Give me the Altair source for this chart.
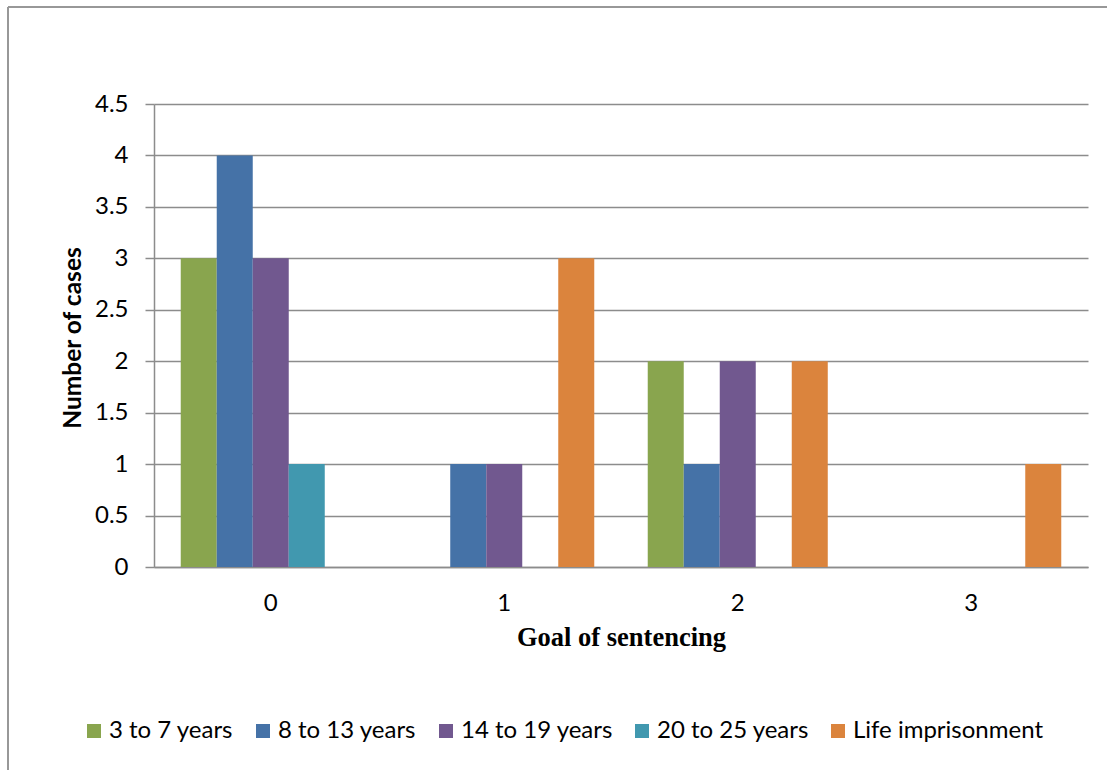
import altair as alt
import pandas as pd

# Sentence lengths (series) and goal-of-sentencing categories
goals = ["0", "1", "2", "3"]
sentences = ["3 to 7 years", "8 to 13 years", "14 to 19 years", "20 to 25 years", "Life imprisonment"]
colors = ["#89A54E", "#4572A7", "#71588F", "#4198AF", "#DB843D"]

# Number of cases per goal, one list per sentence length
cases_3_7 = [3, 0, 2, 0]
cases_8_13 = [4, 1, 1, 0]
cases_14_19 = [3, 1, 2, 0]
cases_20_25 = [1, 0, 0, 0]
cases_life = [0, 3, 2, 1]

series = [cases_3_7, cases_8_13, cases_14_19, cases_20_25, cases_life]
rows = []
for name, vals in zip(sentences, series):
    for g, v in zip(goals, vals):
        rows.append({"goal": g, "sentence": name, "cases": v})
df = pd.DataFrame(rows)

W, H = 934, 463
PAD = {"left": 154, "top": 104, "right": 19, "bottom": 203}
GRID = "#8c8c8c"
SANS = "Lato"
FS = 24

bars = alt.Chart(df).mark_bar().encode(
    x=alt.X("goal:N", sort=goals,
            scale=alt.Scale(paddingInner=0.229, paddingOuter=0.1145),
            axis=alt.Axis(title="Goal of sentencing", labelAngle=0, ticks=False,
                          labelFont=SANS, labelFontSize=FS, labelColor="#000",
                          labelBaseline="middle", labelPadding=36,
                          domainColor=GRID, domainWidth=1.5,
                          titleFont="Liberation Serif", titleFontSize=26.5,
                          titleFontWeight="bold", titleColor="#000",
                          titleY=70, titleBaseline="middle")),
    xOffset=alt.XOffset("sentence:N", sort=sentences, scale=alt.Scale(paddingInner=0, paddingOuter=0)),
    y=alt.Y("cases:Q", scale=alt.Scale(domain=[0, 4.5], nice=False),
            axis=alt.Axis(title="Number of cases", values=[0, 0.5, 1, 1.5, 2, 2.5, 3, 3.5, 4, 4.5],
                          labelExpr="datum.value", grid=True, gridColor=GRID, gridWidth=1.5,
                          tickColor=GRID, tickSize=9, tickWidth=1.5, domainColor=GRID,
                          domainWidth=1.5, labelFont=SANS, labelFontSize=FS,
                          labelColor="#000", labelPadding=17,
                          titleFont=SANS, titleFontSize=24.5, titleFontWeight="bold",
                          titleColor="#000", titleX=-81, titleY=H / 2 + 2,
                          titleBaseline="middle", titleAngle=-90)),
    color=alt.Color("sentence:N", sort=sentences,
                    scale=alt.Scale(domain=sentences, range=colors),
                    legend=alt.Legend(title=None, orient="none", direction="horizontal",
                                      columns=5, legendX=-72, legendY=615,
                                      symbolType="square", symbolSize=196,
                                      symbolStrokeWidth=0, labelFont=SANS,
                                      labelFontSize=FS, labelColor="#000",
                                      labelOffset=3, columnPadding=17,
                                      labelLimit=300)),
)

# Outer chart frame (top and left edges)
frame_top = alt.Chart(df).mark_rule(color="#999999", strokeWidth=1.5).encode(
    x=alt.value(-146), x2=alt.value(W + PAD["right"]), y=alt.value(-97)
)
frame_left = alt.Chart(df).mark_rule(color="#999999", strokeWidth=1.5).encode(
    x=alt.value(-146), y=alt.value(-97), y2=alt.value(H + PAD["bottom"])
)

chart = alt.layer(bars, frame_top, frame_left).properties(
    width=W, height=H, padding=PAD, autosize=alt.AutoSizeParams(type="none"),
    background="white"
).configure_view(stroke=None)

chart.save("out.html", embed_options={"renderer": "svg", "actions": False})
